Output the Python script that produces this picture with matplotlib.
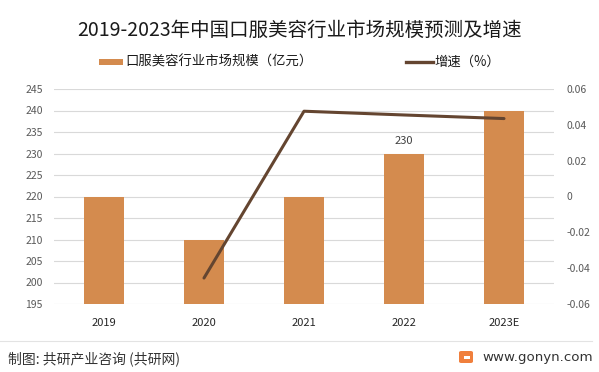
import matplotlib
matplotlib.use("Agg")
import matplotlib.pyplot as plt
from matplotlib.patches import Rectangle, FancyBboxPatch
from matplotlib.lines import Line2D

plt.rcParams['font.family'] = ['Noto Sans CJK SC', 'DejaVu Sans']

categories = ["2019", "2020", "2021", "2022", "2023E"]
market_size = [220, 210, 220, 230, 240]
growth = [None, -0.0455, 0.0476, 0.0455, 0.0435]
left_ticks = [195, 200, 205, 210, 215, 220, 225, 230, 235, 240, 245]
right_ticks = [-0.06, -0.04, -0.02, 0, 0.02, 0.04, 0.06]
right_labels = ["-0.06", "-0.04", "-0.02", "0", "0.02", "0.04", "0.06"]
title = "2019-2023年中国口服美容行业市场规模预测及增速"
bar_label = "口服美容行业市场规模（亿元）"
line_label = "增速（%）"

W, H = 599, 372
fig = plt.figure(figsize=(W / 100, H / 100), dpi=100)
ax = fig.add_axes([54 / W, 1 - 304 / H, 500 / W, 215 / H])
ax2 = ax.twinx()

bar_color = "#D48B4E"
line_color = "#644530"
tick_color = "#595959"

x = list(range(len(categories)))
ax.bar(x, market_size, width=0.4, color=bar_color, zorder=2, bottom=0)
ax.set_ylim(195, 245)
ax.set_xlim(-0.5, len(categories) - 0.5)
ax.set_yticks(left_ticks)
ax.set_yticklabels([str(t) for t in left_ticks])
ax.grid(axis='y', color="#D9D9D9", linewidth=0.8, zorder=0)
ax.set_axisbelow(True)
ax.set_xticks(x)
ax.set_xticklabels(categories)
for s in ax.spines.values():
    s.set_visible(False)
for s in ax2.spines.values():
    s.set_visible(False)
ax.tick_params(axis='y', length=0, labelsize=7.5, labelcolor=tick_color, pad=8)
ax.tick_params(axis='x', length=0, labelsize=8, labelcolor="#262626", pad=10)

# data label only on 2022
i22 = categories.index("2022")
ax.text(i22, market_size[i22] + 1.8, str(market_size[i22]), ha='center', va='bottom',
        fontsize=8, color="#404040")

gx = [i for i, g in enumerate(growth) if g is not None]
gy = [g for g in growth if g is not None]
ax2.plot(gx, gy, color=line_color, linewidth=2.2, zorder=3, solid_capstyle='round')
ax2.set_ylim(-0.06, 0.06)
ax2.set_yticks(right_ticks)
ax2.set_yticklabels(right_labels)
ax2.tick_params(axis='y', length=0, labelsize=7.5, labelcolor=tick_color, pad=9)

# title
fig.text(299.5 / W, 1 - 30 / H, title, ha='center', va='center', fontsize=14, color="#1a1a1a")

# legend
fig.patches.append(Rectangle((99 / W, 1 - 65 / H), 24 / W, 6 / H, transform=fig.transFigure,
                             facecolor=bar_color, edgecolor='none'))
fig.text(125 / W, 1 - 62 / H, bar_label, ha='left', va='center', fontsize=9.6, color="#1a1a1a")
fig.lines.append(Line2D([406 / W, 433 / W], [1 - 62 / H, 1 - 62 / H], transform=fig.transFigure,
                        color=line_color, linewidth=2.4))
fig.text(434 / W, 1 - 62 / H, line_label, ha='left', va='center', fontsize=9.6, color="#1a1a1a")

# footer
fig.lines.append(Line2D([0, 592 / W], [1 - 341 / H, 1 - 341 / H], transform=fig.transFigure,
                        color="#E3E3E3", linewidth=0.8))
fig.text(8 / W, 1 - 359 / H, "制图: 共研产业咨询 (共研网)", ha='left', va='center',
         fontsize=10, color="#333333")
fig.patches.append(FancyBboxPatch((459 / W, 1 - 363 / H), 14 / W, 12 / H,
                                  boxstyle="round,pad=0,rounding_size=0.004",
                                  transform=fig.transFigure,
                                  facecolor="#F07F3C", edgecolor='none'))
fig.patches.append(Rectangle((464 / W, 1 - 359 / H), 6 / W, 3 / H, transform=fig.transFigure,
                             facecolor="white", edgecolor='none'))
fig.text(482 / W, 1 - 357 / H, "www.gonyn.com", ha='left', va='center',
         fontsize=9.6, color="#333333", family=['DejaVu Sans'])

fig.savefig("out.png", dpi=100)
